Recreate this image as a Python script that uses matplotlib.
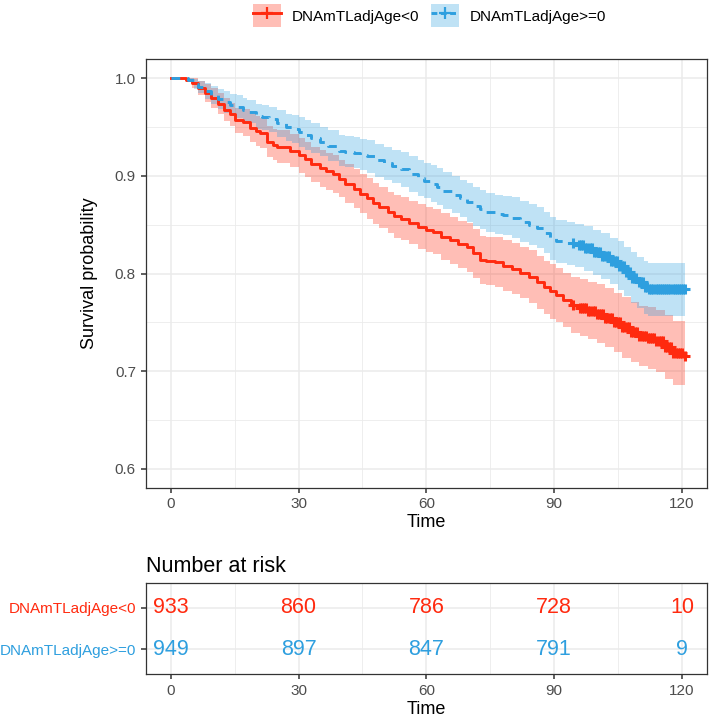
import numpy as np
import matplotlib
matplotlib.use('Agg')
import matplotlib.pyplot as plt
from matplotlib.patches import Patch
from matplotlib.lines import Line2D
from matplotlib.ticker import MultipleLocator

plt.rcParams['font.family'] = ['Liberation Sans', 'DejaVu Sans']

# group labels and colours
groups = ['DNAmTLadjAge<0', 'DNAmTLadjAge>=0']
colors = ['#FF2A0F', '#2E9FDF']

# Kaplan-Meier curve, group 1 (DNAmTLadjAge<0)
t_low = [0, 3.5, 5, 6.5, 8, 9.5, 11, 12.5, 14, 15, 17, 18.5, 20, 21, 22.5, 24, 25, 28,
         30, 31.5, 33, 35, 36.5, 38, 39.5, 41, 43, 44.5, 46, 47.5, 49, 51, 52.5, 54,
         56, 58, 60, 61.5, 63.5, 65.5, 67.5, 69.5, 71, 72.5, 74, 76, 78, 80, 82, 84,
         86, 87.5, 89, 90.5, 92, 94, 96, 98, 100, 102, 104, 106, 108, 110, 112, 114,
         116, 118, 120.7]
s_low = [1.0, 0.998, 0.995, 0.990, 0.985, 0.980, 0.974, 0.968, 0.963, 0.957, 0.955,
         0.949, 0.946, 0.944, 0.935, 0.932, 0.930, 0.926, 0.921, 0.917, 0.912, 0.908,
         0.905, 0.902, 0.897, 0.892, 0.887, 0.882, 0.877, 0.872, 0.868, 0.863, 0.859,
         0.856, 0.852, 0.848, 0.845, 0.843, 0.838, 0.834, 0.830, 0.827, 0.821, 0.814,
         0.813, 0.812, 0.808, 0.805, 0.801, 0.797, 0.791, 0.786, 0.782, 0.778, 0.773,
         0.768, 0.765, 0.762, 0.759, 0.755, 0.750, 0.745, 0.740, 0.736, 0.734, 0.731,
         0.725, 0.719, 0.716]
lo_low = [1.0, 0.996, 0.990, 0.983, 0.976, 0.970, 0.963, 0.956, 0.951, 0.944, 0.941,
          0.935, 0.931, 0.929, 0.919, 0.916, 0.913, 0.909, 0.903, 0.899, 0.894, 0.889,
          0.886, 0.883, 0.878, 0.872, 0.867, 0.862, 0.856, 0.851, 0.847, 0.842, 0.837,
          0.834, 0.830, 0.825, 0.822, 0.820, 0.814, 0.810, 0.806, 0.802, 0.796, 0.789,
          0.788, 0.786, 0.782, 0.779, 0.775, 0.770, 0.764, 0.759, 0.754, 0.750, 0.745,
          0.739, 0.736, 0.733, 0.729, 0.725, 0.720, 0.714, 0.709, 0.705, 0.702, 0.699,
          0.692, 0.686, 0.682]
hi_low = [1.0, 1.0, 1.0, 0.997, 0.994, 0.990, 0.985, 0.980, 0.975, 0.970, 0.969,
          0.963, 0.961, 0.959, 0.951, 0.948, 0.947, 0.943, 0.939, 0.935, 0.930, 0.927,
          0.924, 0.921, 0.916, 0.912, 0.907, 0.902, 0.898, 0.893, 0.889, 0.884, 0.881,
          0.878, 0.874, 0.871, 0.868, 0.866, 0.862, 0.858, 0.854, 0.852, 0.846, 0.839,
          0.838, 0.838, 0.834, 0.831, 0.827, 0.824, 0.818, 0.813, 0.810, 0.806, 0.801,
          0.797, 0.794, 0.791, 0.789, 0.785, 0.780, 0.776, 0.771, 0.767, 0.766, 0.763,
          0.758, 0.752, 0.750]
cens_low = [94.5, 96, 96.5, 97, 97.5, 98, 98.5, 99, 99.5, 100, 100.5, 101, 101.5, 102,
            102.5, 103, 103.5, 104, 104.5, 105, 105.5, 106, 106.5, 107, 107.5, 108,
            108.5, 109, 109.5, 110, 110.5, 111, 111.5, 112, 112.5, 113, 113.5, 114,
            114.5, 115, 115.5, 116, 116.5, 117, 117.5, 118, 118.5, 119, 119.5, 120,
            120.7]

# Kaplan-Meier curve, group 2 (DNAmTLadjAge>=0)
t_high = [0, 4, 5.5, 6.5, 8, 9.5, 11, 12.5, 14, 15.5, 17, 18, 20, 21.5, 23, 25, 27,
          28.5, 30, 31.5, 33, 35, 37, 39.5, 41, 43, 44.5, 46, 48, 50, 52, 54, 56, 58,
          59.5, 61, 62.5, 64, 66, 68, 69.5, 71, 72.5, 74, 76, 78, 80, 82, 84, 86, 87.5,
          89, 90.5, 93, 95, 97, 99, 101, 103, 105, 106.5, 108, 109.5, 111, 112, 120.7]
s_high = [1.0, 0.998, 0.994, 0.991, 0.987, 0.983, 0.979, 0.976, 0.973, 0.971, 0.968,
          0.966, 0.961, 0.960, 0.958, 0.954, 0.950, 0.948, 0.945, 0.942, 0.939, 0.935,
          0.931, 0.926, 0.925, 0.924, 0.922, 0.920, 0.916, 0.913, 0.910, 0.907, 0.902,
          0.898, 0.895, 0.892, 0.889, 0.885, 0.881, 0.877, 0.873, 0.869, 0.866, 0.863,
          0.861, 0.860, 0.857, 0.853, 0.850, 0.847, 0.842, 0.836, 0.833, 0.831, 0.829,
          0.826, 0.822, 0.818, 0.813, 0.808, 0.802, 0.796, 0.791, 0.786, 0.784, 0.784]
lo_high = [1.0, 0.996, 0.989, 0.985, 0.979, 0.974, 0.969, 0.965, 0.962, 0.959, 0.956,
           0.954, 0.948, 0.947, 0.945, 0.940, 0.936, 0.934, 0.930, 0.927, 0.924, 0.920,
           0.915, 0.910, 0.909, 0.908, 0.906, 0.903, 0.899, 0.896, 0.893, 0.889, 0.884,
           0.880, 0.877, 0.873, 0.870, 0.866, 0.862, 0.858, 0.853, 0.849, 0.846, 0.843,
           0.841, 0.840, 0.836, 0.832, 0.829, 0.826, 0.821, 0.814, 0.811, 0.809, 0.807,
           0.803, 0.799, 0.794, 0.789, 0.783, 0.777, 0.770, 0.765, 0.759, 0.757, 0.757]
hi_high = [1.0, 1.0, 0.999, 0.997, 0.995, 0.992, 0.989, 0.987, 0.984, 0.983, 0.980,
           0.978, 0.974, 0.973, 0.971, 0.968, 0.964, 0.962, 0.960, 0.957, 0.954, 0.950,
           0.947, 0.942, 0.941, 0.940, 0.938, 0.937, 0.933, 0.930, 0.927, 0.925, 0.920,
           0.916, 0.913, 0.911, 0.908, 0.904, 0.900, 0.896, 0.893, 0.889, 0.886, 0.883,
           0.881, 0.880, 0.878, 0.874, 0.871, 0.868, 0.863, 0.858, 0.855, 0.853, 0.851,
           0.849, 0.845, 0.842, 0.837, 0.833, 0.827, 0.822, 0.817, 0.813, 0.811, 0.812]
cens_high = [94.5, 95.8, 96.3, 96.8, 97.3, 97.8, 98.3, 98.8, 99.3, 99.8, 100.3, 100.8,
             101.3, 101.8, 102.3, 102.8, 103.3, 103.8, 104.3, 104.8, 105.3, 105.8,
             106.3, 106.8, 107.3, 107.8, 108.3, 108.8, 109.3, 109.8, 110.3, 110.8,
             111.3, 111.8, 112.3, 112.8, 113.3, 113.8, 114.3, 114.8, 115.3, 115.8,
             116.3, 116.8, 117.3, 117.8, 118.3, 118.8, 119.3, 119.8, 120.3, 120.7]

# number at risk table
risk_times = [0, 30, 60, 90, 120]
risk_low = [933, 860, 786, 728, 10]
risk_high = [949, 897, 847, 791, 9]

curves = [(t_low, s_low, lo_low, hi_low, cens_low, '-'),
          (t_high, s_high, lo_high, hi_high, cens_high, '--')]

fig = plt.figure(figsize=(7.09, 7.18), dpi=100)
ax = fig.add_axes([0.2055, 0.3208, 0.7917, 0.597])
ax_risk = fig.add_axes([0.2055, 0.0609, 0.7917, 0.1275])

grid_major = '#EBEBEB'
tick_col = '#4D4D4D'
border = '#333333'


def style_axes(a):
    for sp in a.spines.values():
        sp.set_color(border)
        sp.set_linewidth(0.9)
    a.set_axisbelow(True)
    a.grid(which='major', color=grid_major, linewidth=1.1)
    a.grid(which='minor', color=grid_major, linewidth=0.6)
    a.tick_params(which='major', colors=border, labelcolor=tick_col,
                  length=3.5, width=1.1, labelsize=11)
    a.tick_params(which='minor', length=0)


# survival curves
for (t, s, lo, hi, cens, ls), col in zip(curves, colors):
    ax.fill_between(t, lo, hi, step='post', color=col, alpha=0.3, linewidth=0)
    line, = ax.plot(t, s, drawstyle='steps-post', color=col, linewidth=2.1,
                    linestyle=ls)
    if ls == '--':
        line.set_dashes((3, 2.5))
    idx = np.searchsorted(t, cens, side='right') - 1
    ax.plot(cens, np.array(s)[idx], linestyle='none', marker='+', color=col,
            markersize=7.5, markeredgewidth=2.2)

ax.set_xlim(-5.87, 125.87)
ax.set_ylim(0.5808, 1.0198)
ax.xaxis.set_major_locator(MultipleLocator(30))
ax.xaxis.set_minor_locator(MultipleLocator(15))
ax.yaxis.set_major_locator(MultipleLocator(0.1))
ax.yaxis.set_minor_locator(MultipleLocator(0.05))
ax.yaxis.set_major_formatter(plt.FormatStrFormatter('%.1f'))
style_axes(ax)
ax.set_xlabel('Time', fontsize=13, labelpad=2)
ax.set_ylabel('Survival probability', fontsize=13, labelpad=12)

# legend
handles = []
for col, ls in zip(colors, ['-', '--']):
    ln = Line2D([], [], color=col, linewidth=2.1, marker='+', markersize=8,
                markeredgewidth=1.6)
    if ls == '--':
        ln.set_dashes((2, 1.2))
    handles.append((Patch(facecolor=col, alpha=0.3, linewidth=0), ln))
fig.legend(handles, groups, loc='center', bbox_to_anchor=(0.606, 0.978), ncol=2,
           frameon=False, fontsize=11, handlelength=1.8, handleheight=1.9,
           handletextpad=0.7, columnspacing=0.8)

# risk table
ypos = [2, 1]
for vals, y, col in zip([risk_low, risk_high], ypos, colors):
    for x, v in zip(risk_times, vals):
        ax_risk.text(x, y, str(v), ha='center', va='center', color=col, fontsize=15.5)
ax_risk.set_xlim(-5.87, 125.87)
ax_risk.set_ylim(0.4, 2.6)
ax_risk.xaxis.set_major_locator(MultipleLocator(30))
ax_risk.xaxis.set_minor_locator(MultipleLocator(15))
ax_risk.set_yticks(ypos)
ax_risk.set_yticklabels(groups)
style_axes(ax_risk)
for lab, col in zip(ax_risk.get_yticklabels(), colors):
    lab.set_color(col)
ax_risk.set_xlabel('Time', fontsize=13, labelpad=2)
ax_risk.set_title('Number at risk', loc='left', fontsize=15.5, pad=8)

fig.savefig('out.png', dpi=100)
